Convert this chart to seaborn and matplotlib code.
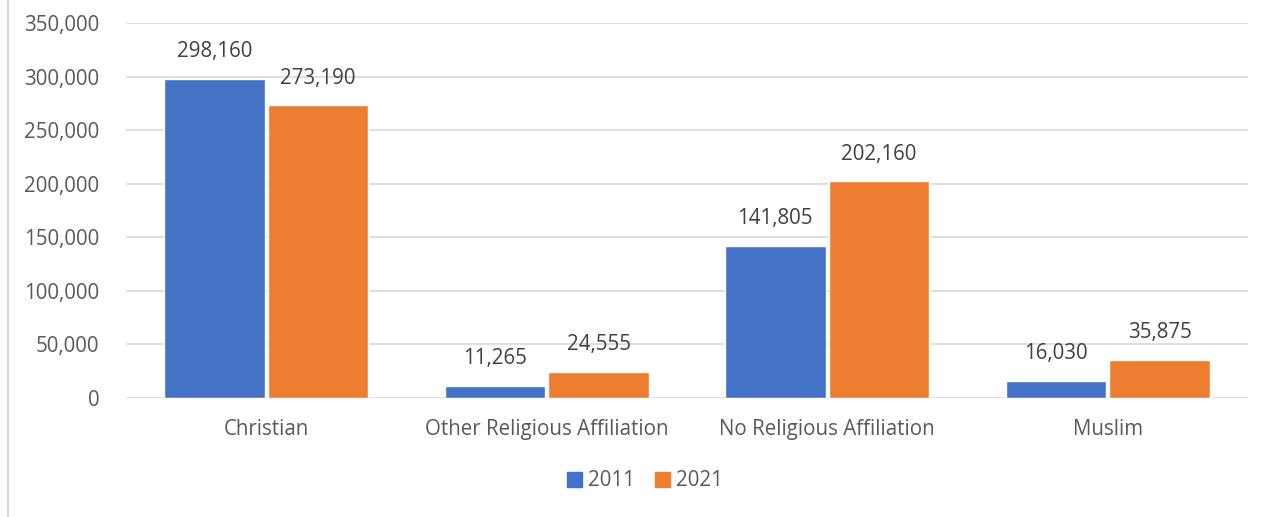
import matplotlib
matplotlib.use("Agg")
import matplotlib.pyplot as plt
import seaborn as sns
import pandas as pd
from matplotlib.lines import Line2D

categories = ["Christian", "Other Religious Affiliation", "No Religious Affiliation", "Muslim"]
years = ["2011", "2021"]
values_2011 = [298160, 11265, 141805, 16030]
values_2021 = [273190, 24555, 202160, 35875]
yticks = [0, 50000, 100000, 150000, 200000, 250000, 300000, 350000]

df = pd.DataFrame({
    "Category": categories * 2,
    "Year": [years[0]] * 4 + [years[1]] * 4,
    "Value": values_2011 + values_2021,
})

sns.set_theme(style="white")
plt.rcParams["font.family"] = ["Open Sans", "DejaVu Sans"]
text_color = "#595959"
label_color = "#404040"
grid_color = "#D9D9D9"
fs = 14.8

fig = plt.figure(figsize=(12.71, 5.17), dpi=100)
ax = fig.add_axes([126 / 1271, 1 - 398 / 517, (1248 - 126) / 1271, (398 - 23) / 517])

palette = {"2011": "#4472C4", "2021": "#ED7D31"}
sns.barplot(data=df, x="Category", y="Value", hue="Year", order=categories,
            hue_order=years, palette=palette, width=0.74, gap=0.03,
            saturation=1, ax=ax, legend=False, zorder=3)

ax.set_ylim(0, 350000)
ax.set_yticks(yticks)
ax.set_yticklabels([f"{v:,}" for v in yticks])
ax.yaxis.grid(True, color=grid_color, linewidth=1.2, zorder=0)
ax.set_axisbelow(True)
for s in ax.spines.values():
    s.set_visible(False)
ax.set_xlabel("")
ax.set_ylabel("")
ax.tick_params(axis="both", length=0, labelsize=fs, colors=text_color)
ax.tick_params(axis="y", pad=19)
ax.tick_params(axis="x", pad=15)
ax.set_xlim(-0.5, 3.5)

for container in ax.containers:
    ax.bar_label(container, labels=[f"{int(v):,}" for v in container.datavalues],
                 padding=12, fontsize=fs, color=label_color)

handles = [plt.Rectangle((0, 0), 1, 1, color=palette[y]) for y in years]
fig.legend(handles, years, loc="center", bbox_to_anchor=(645 / 1271, 1 - 481 / 517),
           ncol=2, frameon=False, fontsize=fs, labelcolor=text_color,
           handlelength=0.7, handleheight=0.7, handletextpad=0.3, columnspacing=1.0)

fig.add_artist(Line2D([7.5 / 1271, 7.5 / 1271], [0, 1], color=grid_color, linewidth=1.5,
                      transform=fig.transFigure))

fig.savefig("out.png", dpi=100)
